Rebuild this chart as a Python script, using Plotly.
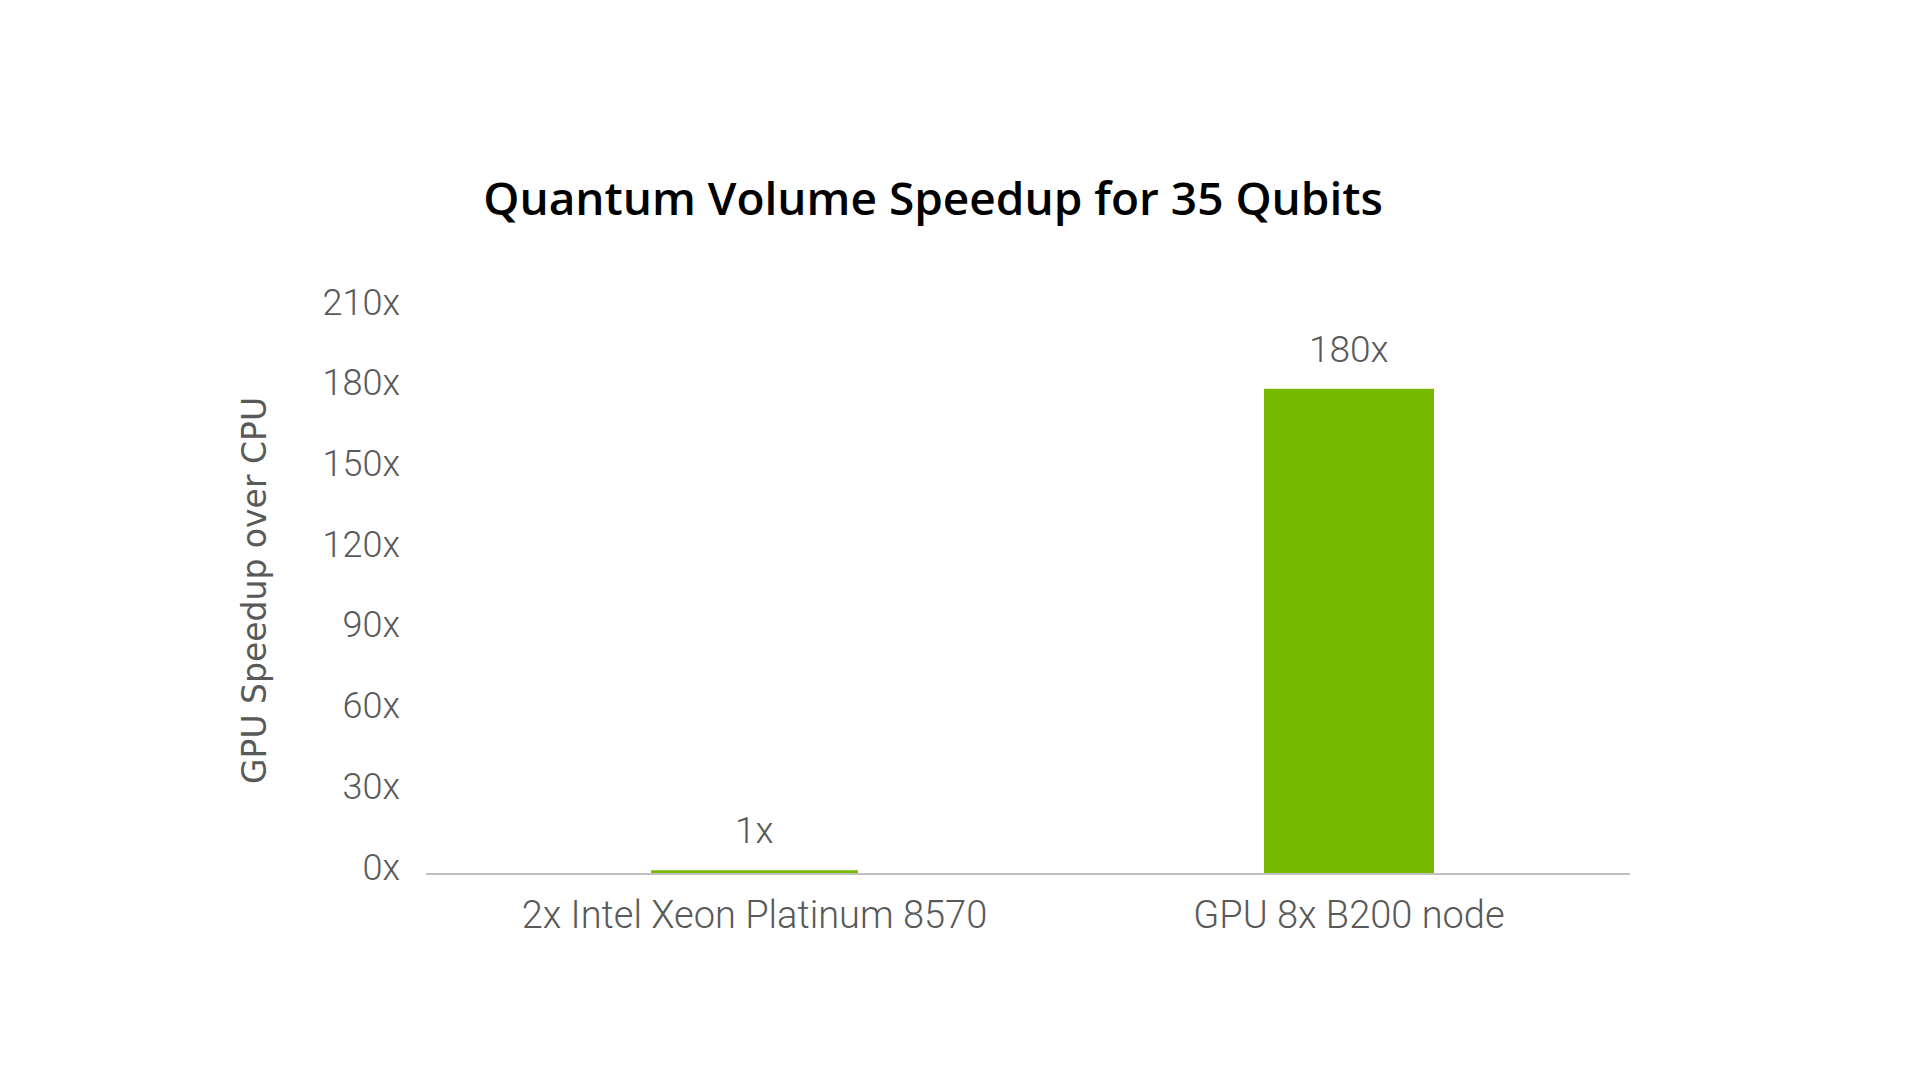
import plotly.graph_objects as go

systems = ["2x Intel Xeon Platinum 8570", "GPU 8x B200 node"]
speedup = [1, 180]
labels = ["1x", "180x"]
bar_widths = [0.348, 0.286]
y_ticks = [0, 30, 60, 90, 120, 150, 180, 210]

green = "#76B900"
grey_text = "#595959"

fig = go.Figure()
fig.add_trace(go.Bar(
    x=systems,
    y=speedup,
    width=bar_widths,
    marker=dict(color=green, line=dict(width=0)),
    hoverinfo="skip",
))

# value labels above the bars
for s, v, t in zip(systems, speedup, labels):
    fig.add_annotation(
        x=s, y=v, text=t, showarrow=False,
        yanchor="bottom", yshift=16,
        font=dict(family="Roboto", size=37, color=grey_text, weight=300),
    )

fig.update_layout(
    width=1920,
    height=1081,
    plot_bgcolor="white",
    paper_bgcolor="white",
    showlegend=False,
    margin=dict(l=418, r=298, t=300, b=216),
    title=dict(
        text="Quantum Volume Speedup for 35 Qubits",
        x=0.4818, y=0.8233, xanchor="center", yanchor="middle",
        font=dict(family="Open Sans", size=46, color="black", weight=600),
    ),
)

fig.update_xaxes(
    type="category",
    range=[-0.5526, 1.4727],
    showline=True,
    linecolor="#BFBFBF",
    linewidth=2,
    showgrid=False,
    ticks="",
    ticklabelstandoff=7,
    tickfont=dict(family="Roboto", size=38, color=grey_text, weight=300),
)

fig.update_yaxes(
    range=[0, 210],
    tickvals=y_ticks,
    ticktext=[f"{v}x" for v in y_ticks],
    showgrid=False,
    zeroline=False,
    showline=False,
    ticks="",
    ticklabelstandoff=25,
    ticklabelshift=-6,
    tickfont=dict(family="Roboto", size=36, color=grey_text, weight=300),
    title=dict(
        text="GPU Speedup over CPU",
        standoff=46,
        font=dict(family="DejaVu Sans", size=33, color=grey_text),
    ),
)

fig.write_html("out.html")
